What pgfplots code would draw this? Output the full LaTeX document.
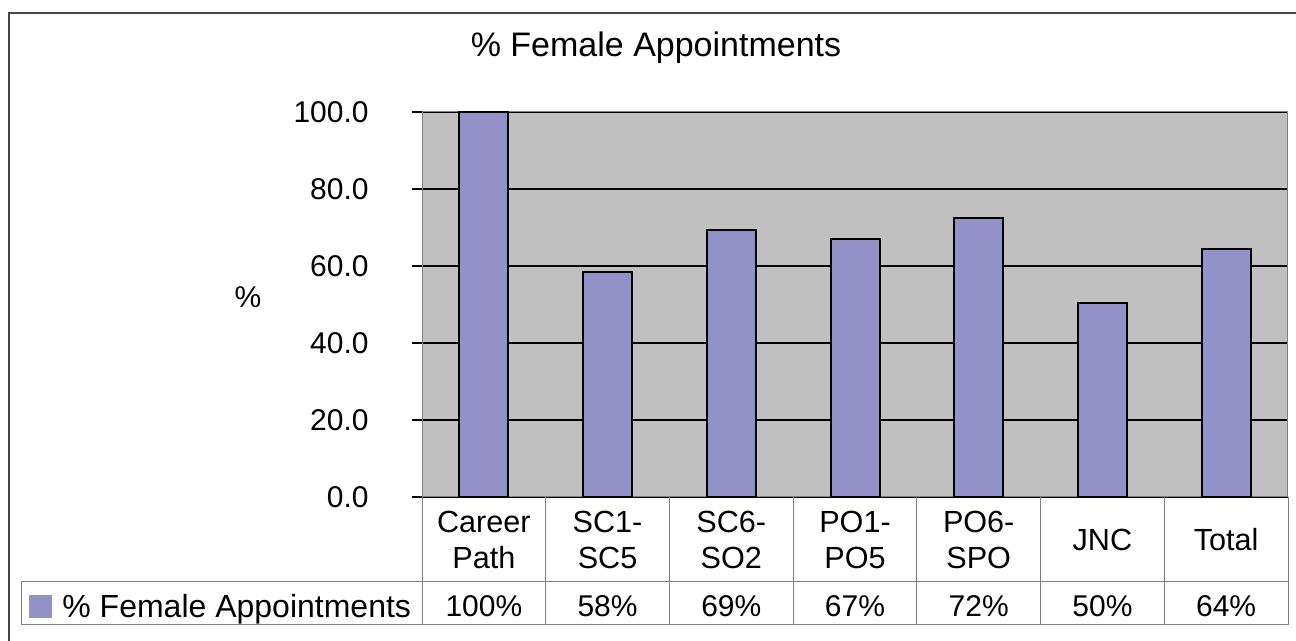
\documentclass[border=0pt]{standalone}
\usepackage{pgfplots}
\pgfplotsset{compat=1.18}
\usepackage{fontspec}
\setmainfont{Liberation Sans}
\definecolor{plotbg}{RGB}{192,192,192}
\definecolor{barfill}{RGB}{146,146,200}
\definecolor{tablegrid}{RGB}{128,128,128}
\definecolor{framecol}{RGB}{70,70,70}
\begin{document}
\begin{tikzpicture}[x=1pt,y=1pt]
\useasboundingbox (0,0) rectangle (648,320.5);
\fill[white] (0,0) rectangle (648,320.5);
\begin{axis}[
  at={(211pt,72pt)}, anchor=south west,
  scale only axis, width=433pt, height=192.5pt,
  xmin=-0.5, xmax=6.5, ymin=0, ymax=100,
  ybar, bar width=24.5pt,
  xtick={0,1,2,3,4,5,6},
  xticklabels={{Career\\Path},{SC1-\\SC5},{SC6-\\SO2},{PO1-\\PO5},{PO6-\\SPO},{JNC},{Total}},
  xticklabel style={align=center, anchor=center, yshift=-16.5pt, font=\fontsize{15.3}{18.3}\selectfont},
  major x tick style={draw=none},
  ytick={0,20,40,60,80,100},
  ytick pos=left,
  yticklabels={0.0,20.0,40.0,60.0,80.0,100.0},
  yticklabel style={font=\fontsize{15}{18}\selectfont, anchor=east, inner sep=0pt, xshift=-21.5pt},
  tick align=outside, major tick length=5pt,
  major y tick style={black, line width=1pt},
  ymajorgrids, grid style={black, line width=1pt},
  axis background/.style={fill=plotbg},
  axis line style={draw=tablegrid, line width=0.5pt},
  clip=false,
]
\addplot[fill=barfill, draw=black, line width=1pt] coordinates {(0,100) (1,58.4) (2,69.4) (3,66.9) (4,72.4) (5,50.3) (6,64.4)};
\end{axis}
% data table grid
\begin{scope}[draw=tablegrid, line width=0.5pt]
  \foreach \k in {0,...,7} {
    \draw (211+61.857*\k,72) -- (211+61.857*\k,8);
  }
  \draw (10.5,29.5) -- (644,29.5);
  \draw (10.5,8) -- (644,8);
  \draw (10.5,29.5) -- (10.5,8);
\end{scope}
\fill[barfill] (14.5,11.5) rectangle (26,23);
\node[anchor=base west, inner sep=0pt, font=\fontsize{16}{18}\selectfont] at (31,11.5) {\% Female Appointments};
\foreach \v [count=\i from 0] in {100\%,58\%,69\%,67\%,72\%,50\%,64\%} {
  \node[anchor=base, inner sep=0pt, font=\fontsize{15}{18}\selectfont] at (211+61.857*\i+30.93,12) {\v};
}
% y label and title
\node[font=\fontsize{15}{18}\selectfont] at (124,172) {\%};
\node[anchor=base, inner sep=0pt, font=\fontsize{17}{20}\selectfont] at (328,292) {\% Female Appointments};
% outer frame
\draw[framecol, line width=0.75pt] (4.5,0) -- (4.5,314) -- (648,314);
\end{tikzpicture}
\end{document}
